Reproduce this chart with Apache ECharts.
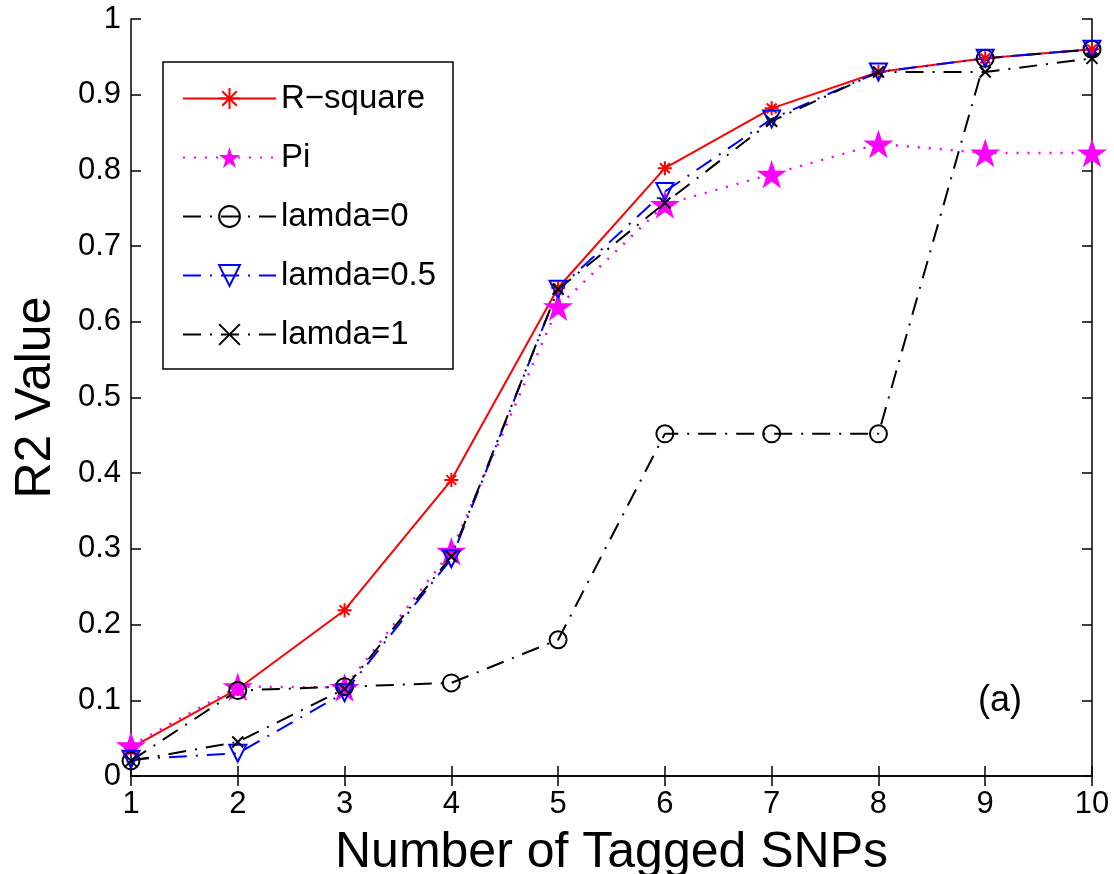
<!DOCTYPE html>
<html>
<head>
<meta charset="utf-8">
<script src="https://cdn.jsdelivr.net/npm/echarts@6/dist/echarts.min.js"></script>
<style>
  html, body { margin: 0; padding: 0; background: #fff; }
  #chart { width: 1114px; height: 874px; }
</style>
</head>
<body>
<div id="chart"></div>
<script>
// data
const snps = [1, 2, 3, 4, 5, 6, 7, 8, 9, 10]
const rSquare = [0.037, 0.115, 0.219, 0.391, 0.645, 0.803, 0.882, 0.930, 0.948, 0.960]
const pi = [0.040, 0.118, 0.117, 0.297, 0.620, 0.755, 0.795, 0.835, 0.823, 0.823]
const lamda0 = [0.020, 0.113, 0.118, 0.123, 0.180, 0.452, 0.452, 0.452, 0.948, 0.960]
const lamda05 = [0.022, 0.030, 0.110, 0.287, 0.643, 0.772, 0.868, 0.930, 0.948, 0.960]
const lamda1 = [0.020, 0.045, 0.115, 0.290, 0.643, 0.757, 0.865, 0.930, 0.930, 0.948]

const pairs = (ys) => snps.map((x, i) => [x, ys[i]])

// marker shapes
const asterisk = 'path://M0,-10L0,10M-10,0L10,0M-7,-7L7,7M-7,7L7,-7'
const cross = 'path://M-10,-10L10,10M-10,10L10,-10'
const star = 'path://M0,-100L22.5,-30.9L95.1,-30.9L36.3,11.8L58.8,80.9L0,38.2L-58.8,80.9L-36.3,11.8L-95.1,-30.9L-22.5,-30.9Z'

const font = 'Liberation Sans, Arial, sans-serif'
const dashDot = [18, 9, 2, 9]
const tickStyle = { inside: true, length: 10, lineStyle: { color: '#000', width: 1.5 } }

let myChart = echarts.init(document.getElementById('chart'))

const option = {
  animation: false,
  backgroundColor: '#fff',
  grid: { left: 131, right: 22, top: 19, bottom: 98, show: false, outerBoundsMode: 'none' },
  legend: {
    orient: 'vertical',
    left: 163,
    top: 62,
    padding: [20, 17, 18, 19],
    borderColor: '#000',
    borderWidth: 1.5,
    backgroundColor: '#fff',
    itemWidth: 93,
    itemHeight: 26,
    itemGap: 26,
    textStyle: { fontFamily: font, fontSize: 33, color: '#000' },
    data: ['R\u2212square', 'Pi', 'lamda=0', 'lamda=0.5', 'lamda=1']
  },
  graphic: [{
    type: 'text',
    left: 978,
    top: 683,
    style: { text: '(a)', fontFamily: font, fontSize: 36, fill: '#000' }
  }],
  xAxis: [{
    type: 'value',
    min: 1, max: 10, interval: 1,
    name: 'Number of Tagged SNPs',
    nameLocation: 'middle',
    nameGap: 52,
    nameTextStyle: { fontFamily: font, fontSize: 50, color: '#000' },
    axisLine: { lineStyle: { color: '#000', width: 1.5 } },
    axisTick: tickStyle,
    axisLabel: { fontFamily: font, fontSize: 31, color: '#000', margin: 13 },
    splitLine: { show: false }
  }, {
    type: 'value',
    position: 'top',
    min: 1, max: 10, interval: 1,
    axisLine: { lineStyle: { color: '#000', width: 1.5 } },
    axisTick: tickStyle,
    axisLabel: { show: false },
    splitLine: { show: false }
  }],
  yAxis: [{
    type: 'value',
    min: 0, max: 1, interval: 0.1,
    name: 'R2 Value',
    nameLocation: 'middle',
    nameGap: 70,
    nameTextStyle: { fontFamily: font, fontSize: 50, color: '#000' },
    axisLine: { show: true, lineStyle: { color: '#000', width: 1.5 } },
    axisTick: Object.assign({ show: true }, tickStyle),
    axisLabel: { fontFamily: font, fontSize: 31, color: '#000', margin: 10 },
    splitLine: { show: false }
  }, {
    type: 'value',
    position: 'right',
    min: 0, max: 1, interval: 0.1,
    axisLine: { show: true, lineStyle: { color: '#000', width: 1.5 } },
    axisTick: Object.assign({ show: true }, tickStyle),
    axisLabel: { show: false },
    splitLine: { show: false }
  }],
  series: [{
    name: 'R\u2212square',
    type: 'line',
    data: pairs(rSquare),
    symbol: asterisk,
    symbolSize: 14,
    lineStyle: { color: '#ff0000', width: 2 },
    itemStyle: { color: '#ff0000', borderColor: '#ff0000', borderWidth: 2 }
  }, {
    name: 'Pi',
    type: 'line',
    data: pairs(pi),
    symbol: star,
    symbolSize: 30,
    symbolKeepAspect: true,
    lineStyle: { color: '#ff00ff', width: 2.5, type: [2, 9] },
    itemStyle: { color: '#ff00ff', borderWidth: 0 }
  }, {
    name: 'lamda=0',
    type: 'line',
    data: pairs(lamda0),
    symbol: 'circle',
    symbolSize: 17,
    lineStyle: { color: '#000', width: 2, type: dashDot },
    itemStyle: { color: 'rgba(255,255,255,0)', borderColor: '#000', borderWidth: 2 }
  }, {
    name: 'lamda=0.5',
    type: 'line',
    data: pairs(lamda05),
    symbol: 'triangle',
    symbolRotate: 180,
    symbolSize: 17,
    lineStyle: { color: '#0000ff', width: 2, type: dashDot },
    itemStyle: { color: 'rgba(255,255,255,0)', borderColor: '#0000ff', borderWidth: 2 }
  }, {
    name: 'lamda=1',
    type: 'line',
    data: pairs(lamda1),
    symbol: cross,
    symbolSize: 11,
    lineStyle: { color: '#000', width: 2, type: dashDot },
    itemStyle: { color: '#000', borderColor: '#000', borderWidth: 2 }
  }]
}

myChart.setOption(option)
</script>
</body>
</html>
